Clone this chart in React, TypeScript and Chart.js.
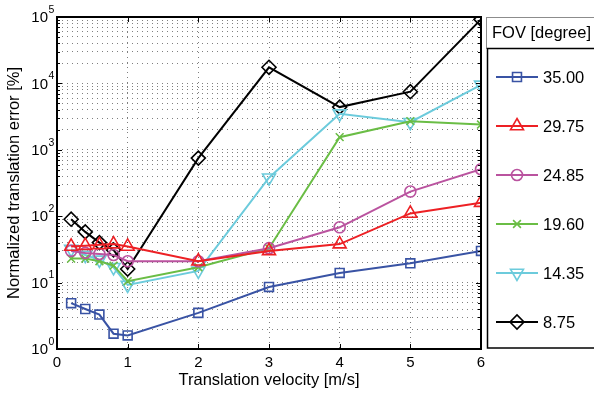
import React, { useEffect, useRef } from 'react';
import { Chart, registerables } from 'chart.js';
import { drawPoint } from 'chart.js/helpers';

Chart.register(...registerables);

const velocities = [0.2, 0.4, 0.6, 0.8, 1, 2, 3, 4, 5, 6];
const fovLabels = ['35.00', '29.75', '24.85', '19.60', '14.35', '8.75'];
const errFov3500 = [4.9, 4.0, 3.3, 1.7, 1.6, 3.5, 8.6, 14, 19.5, 30];
const errFov2975 = [35, 36, 37, 38, 35, 21, 30, 38, 110, 160];
const errFov2485 = [30, 28, 27, 26, 21, 21, 33, 68, 235, 510];
const errFov1960 = [23, 23, 21, 18, 10.5, 17, 33, 1550, 2700, 2400];
const errFov1435 = [32, 26, 22, 17, 9.2, 15, 380, 3500, 2600, 9500];
const errFov0875 = [90, 58, 40, 31, 16, 750, 17500, 4400, 7500, 92000];
const xTickValues = [0, 1, 2, 3, 4, 5, 6];
const yDecades = [0, 1, 2, 3, 4, 5];

const FONT = "'Liberation Sans', Arial, Helvetica, sans-serif";

const seriesStyles = [
  { color: '#3953a4', pointStyle: 'rect', radius: 6.3, rotation: 0 },
  { color: '#ed2024', pointStyle: 'triangle', radius: 7.5, rotation: 0 },
  { color: '#ba539f', pointStyle: 'circle', radius: 5.5, rotation: 0 },
  { color: '#6abd45', pointStyle: 'crossRot', radius: 5.5, rotation: 0 },
  { color: '#6ccbdc', pointStyle: 'triangle', radius: 7.5, rotation: 180 },
  { color: '#000000', pointStyle: 'rectRot', radius: 7, rotation: 0 },
];

const allSeries = [errFov3500, errFov2975, errFov2485, errFov1960, errFov1435, errFov0875];

const yGridValues: number[] = [];
yDecades.forEach((k) => {
  if (k === yDecades[yDecades.length - 1]) {
    yGridValues.push(Math.pow(10, k));
  } else {
    for (let m = 1; m <= 9; m++) yGridValues.push(m * Math.pow(10, k));
  }
});

const framePlugin = {
  id: 'matlabFrame',
  afterDatasetsDraw(chart: any) {
    const { ctx, chartArea } = chart;
    const { left, right, top, bottom } = chartArea;
    const xs = chart.scales.x;
    const ys = chart.scales.y;
    ctx.save();
    ctx.strokeStyle = '#000';
    ctx.lineWidth = 1;
    ctx.beginPath();
    yGridValues.forEach((v) => {
      const y = Math.round(ys.getPixelForValue(v)) + 0.5;
      const isMajor = Math.abs(Math.log10(v) - Math.round(Math.log10(v))) < 1e-9;
      const len = isMajor ? 5 : 3;
      ctx.moveTo(left, y);
      ctx.lineTo(left + len, y);
      ctx.moveTo(right, y);
      ctx.lineTo(right - len, y);
    });
    xTickValues.forEach((v) => {
      const x = Math.round(xs.getPixelForValue(v)) + 0.5;
      ctx.moveTo(x, bottom);
      ctx.lineTo(x, bottom - 5);
      ctx.moveTo(x, top);
      ctx.lineTo(x, top + 5);
    });
    ctx.stroke();
    ctx.lineWidth = 2;
    ctx.strokeRect(Math.round(left), Math.round(top), Math.round(right - left), Math.round(bottom - top));
    ctx.restore();
  },
  afterDraw(chart: any) {
    const { ctx } = chart;
    const ys = chart.scales.y;
    ctx.save();
    ctx.fillStyle = '#000';
    yDecades.forEach((k) => {
      const y = ys.getPixelForValue(Math.pow(10, k));
      ctx.font = `15px ${FONT}`;
      ctx.textAlign = 'right';
      ctx.textBaseline = 'middle';
      ctx.fillText('10', 48, y + 1);
      ctx.font = `10.5px ${FONT}`;
      ctx.textAlign = 'left';
      ctx.fillText(String(k), 48.5, y - 7);
    });
    ctx.strokeStyle = '#8c8c8c';
    ctx.lineWidth = 1;
    ctx.strokeRect(486.5, 17.5, 120, 31);
    ctx.font = `16.5px ${FONT}`;
    ctx.textAlign = 'left';
    ctx.textBaseline = 'middle';
    ctx.fillText('FOV [degree]', 492, 33);
    ctx.strokeStyle = '#000';
    ctx.lineWidth = 1.5;
    ctx.strokeRect(487.5, 48.5, 120, 299.5);
    chart.data.datasets.forEach((ds: any, i: number) => {
      const st = seriesStyles[i];
      const y = 77 + i * 49;
      ctx.strokeStyle = st.color;
      ctx.lineWidth = 2;
      ctx.beginPath();
      ctx.moveTo(496, y);
      ctx.lineTo(538, y);
      ctx.stroke();
      ctx.fillStyle = 'rgba(0,0,0,0)';
      ctx.lineWidth = 1.6;
      drawPoint(ctx, { pointStyle: st.pointStyle, rotation: st.rotation, radius: st.radius, borderWidth: 1.6 } as any, 517, y);
      ctx.fillStyle = '#000';
      ctx.font = `16.5px ${FONT}`;
      ctx.textAlign = 'left';
      ctx.textBaseline = 'middle';
      ctx.fillText(ds.label, 543, y + 1);
    });
    ctx.restore();
  },
};

export default function App() {
  const canvasRef = useRef<HTMLCanvasElement | null>(null);

  useEffect(() => {
    const canvas = canvasRef.current;
    if (!canvas) return;
    const datasets = allSeries.map((series, i) => ({
      label: fovLabels[i],
      data: velocities.map((v, j) => ({ x: v, y: series[j] })),
      borderColor: seriesStyles[i].color,
      backgroundColor: 'rgba(0,0,0,0)',
      borderWidth: 2,
      pointStyle: seriesStyles[i].pointStyle as any,
      pointRotation: seriesStyles[i].rotation,
      pointRadius: seriesStyles[i].radius,
      pointBorderWidth: 1.6,
      pointBorderColor: seriesStyles[i].color,
      pointBackgroundColor: 'rgba(0,0,0,0)',
      tension: 0,
      fill: false,
    }));

    const gridStyle = { color: 'rgba(0,0,0,0.5)', lineWidth: 1, drawTicks: false };

    const chart = new Chart(canvas, {
      type: 'line',
      data: { datasets },
      options: {
        responsive: false,
        animation: false,
        devicePixelRatio: 1,
        layout: { padding: { left: 0, top: 17, right: 113, bottom: 0 } },
        plugins: { legend: { display: false }, tooltip: { enabled: false } },
        scales: {
          x: {
            type: 'linear',
            min: 0,
            max: 6,
            afterBuildTicks: (s: any) => {
              s.ticks = xTickValues.map((v) => ({ value: v }));
            },
            afterFit: (s: any) => {
              s.height = 45;
            },
            ticks: {
              autoSkip: false,
              maxRotation: 0,
              padding: 5,
              color: '#000',
              font: { family: FONT, size: 15 },
              callback: (v: any) => String(v),
            },
            grid: gridStyle,
            border: { display: false, dash: [1, 4] },
            title: {
              display: true,
              text: 'Translation velocity [m/s]',
              color: '#000',
              font: { family: FONT, size: 16.5 },
              padding: { top: 0, bottom: 4 },
            },
          },
          y: {
            type: 'logarithmic',
            min: 1,
            max: 100000,
            afterBuildTicks: (s: any) => {
              s.ticks = yGridValues.map((v) => ({ value: v }));
            },
            afterFit: (s: any) => {
              s.width = 57;
            },
            ticks: { display: false },
            grid: gridStyle,
            border: { display: false, dash: [1, 4] },
            title: {
              display: true,
              text: 'Normalized translation error [%]',
              color: '#000',
              font: { family: FONT, size: 16.5 },
              padding: { top: 5, bottom: 0 },
            },
          },
        },
      },
      plugins: [framePlugin],
    } as any);

    return () => chart.destroy();
  }, []);

  return (
    <div style={{ position: 'fixed', left: 0, top: 0, width: 594, height: 394, background: '#fff' }}>
      <canvas ref={canvasRef} width={594} height={394} style={{ display: 'block' }} />
    </div>
  );
}
